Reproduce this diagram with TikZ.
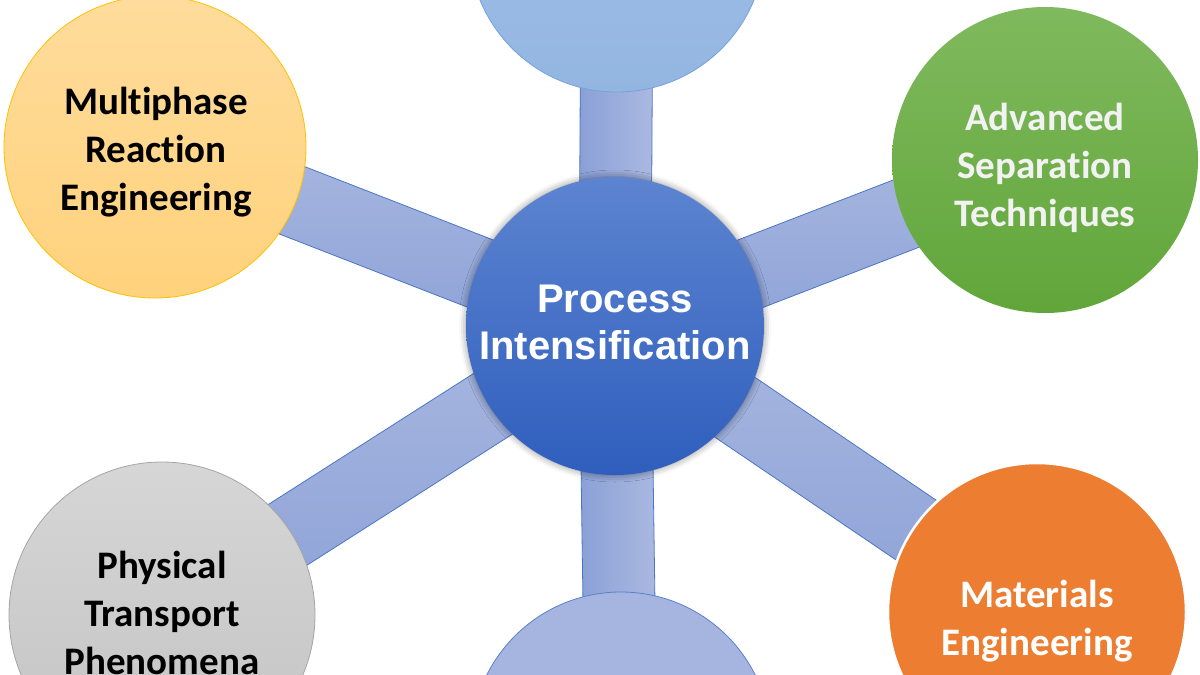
\documentclass[tikz,border=0pt]{standalone}
\usepackage{fontspec}
\newfontfamily\carl{Carlito}[Ligatures=NoCommon]
\newfontfamily\arl{Liberation Sans}
\usetikzlibrary{calc,shadows.blur,backgrounds}
\definecolor{barlight}{HTML}{ABB9E1}
\definecolor{bardark}{HTML}{8AA0D6}
\definecolor{barline}{HTML}{4A76C6}
\definecolor{hubtop}{HTML}{5C84D0}
\definecolor{hubbot}{HTML}{2F5EBD}
\definecolor{toptop}{HTML}{A2C1E8}
\definecolor{topbot}{HTML}{93B6E1}
\definecolor{topline}{HTML}{74A3DC}
\definecolor{yeltop}{HTML}{FFDC9C}
\definecolor{yelbot}{HTML}{FFD27C}
\definecolor{yelline}{HTML}{FFC000}
\definecolor{grntop}{HTML}{80B95E}
\definecolor{grnbot}{HTML}{61A63A}
\definecolor{orng}{HTML}{ED7D31}
\definecolor{grytop}{HTML}{D6D6D6}
\definecolor{grybot}{HTML}{C3C3C3}
\definecolor{gryline}{HTML}{A5A5A5}
\definecolor{peri}{HTML}{A5B5DF}
\definecolor{periline}{HTML}{5B80CB}
\definecolor{offwhite}{HTML}{F2F2F2}
\tikzset{
  sat/.style={circle, inner sep=0pt},
  sattext/.style={rectangle, inner sep=0pt, align=center,
    font=\carl\bfseries\fontsize{39}{48}\selectfont},
  hub/.style={circle, inner sep=0pt, minimum size=298pt,
    top color=hubtop, bottom color=hubbot,
    blur shadow={shadow xshift=0pt, shadow yshift=0pt, shadow blur radius=7pt, shadow opacity=45}},
  hubtext/.style={rectangle, inner sep=0pt, align=center,
    font=\arl\bfseries\fontsize{40}{47}\selectfont, text=white},
  spoke/.style={draw=barline, line width=0.8pt},
}
\begin{document}
\begin{tikzpicture}[x=1pt,y=-1pt]
\useasboundingbox (0,0) rectangle (1200,675);
\clip (0,0) rectangle (1200,675);

% satellites
\node[sat, minimum size=296pt, top color=toptop, bottom color=topbot, draw=topline, line width=0.8pt] (top) at (617,-56) {};
\node[sat, minimum size=302pt, top color=yeltop, bottom color=yelbot, draw=yelline, line width=0.8pt] (mre) at (155,147) {};
\node[sattext] (mretxt) at (156,152) {Multiphase\\Reaction\\Engineering};
\node[sat, minimum size=306pt, top color=grntop, bottom color=grnbot] (ast) at (1045,160) {};
\node[sattext, text=offwhite] (asttxt) at (1045,168) {Advanced\\Separation\\Techniques};
\node[sat, minimum size=298pt, fill=orng, draw=white, line width=2.5pt] (me) at (1037,612) {};
\node[sattext, text=white] (metxt) at (1037,621) {Materials\\Engineering};
\node[sat, minimum size=306pt, top color=grytop, bottom color=grybot, draw=gryline, line width=0.8pt] (ptp) at (162,615) {};
\node[sattext] (ptptxt) at (162,613) {Physical\\Transport\\Phenomena};
\node[sat, minimum size=300pt, fill=peri, draw=periline, line width=0.8pt] (bot) at (621,742) {};
\node[sattext, text=white] (bottxt) at (621,719) {Particle\\Technology};

% hub
\node[hub] (pi) at (615,326) {};
\node[hubtext] (pitxt) at (615,322) {Process\\Intensification};

% spokes
\begin{scope}[on background layer]
\shadedraw[spoke, left color=bardark, right color=barlight]
  ($(pi)!36pt!90:(top)$) -- ($(top)!36pt!-90:(pi)$) -- ($(top)!36pt!90:(pi)$) -- ($(pi)!36pt!-90:(top)$) -- cycle;
\shadedraw[spoke, left color=bardark, right color=barlight]
  ($(pi)!36pt!90:(bot)$) -- ($(bot)!36pt!-90:(pi)$) -- ($(bot)!36pt!90:(pi)$) -- ($(pi)!36pt!-90:(bot)$) -- cycle;
\shadedraw[spoke, top color=barlight, bottom color=bardark]
  ($(pi)!36pt!90:(mre)$) -- ($(mre)!36pt!-90:(pi)$) -- ($(mre)!36pt!90:(pi)$) -- ($(pi)!36pt!-90:(mre)$) -- cycle;
\shadedraw[spoke, top color=barlight, bottom color=bardark]
  ($(pi)!36pt!90:(ast)$) -- ($(ast)!36pt!-90:(pi)$) -- ($(ast)!36pt!90:(pi)$) -- ($(pi)!36pt!-90:(ast)$) -- cycle;
\shadedraw[spoke, top color=barlight, bottom color=bardark]
  ($(pi)!36pt!90:(me)$) -- ($(me)!36pt!-90:(pi)$) -- ($(me)!36pt!90:(pi)$) -- ($(pi)!36pt!-90:(me)$) -- cycle;
\shadedraw[spoke, top color=barlight, bottom color=bardark]
  ($(pi)!36pt!90:(ptp)$) -- ($(ptp)!36pt!-90:(pi)$) -- ($(ptp)!36pt!90:(pi)$) -- ($(pi)!36pt!-90:(ptp)$) -- cycle;
\end{scope}
\end{tikzpicture}
\end{document}
